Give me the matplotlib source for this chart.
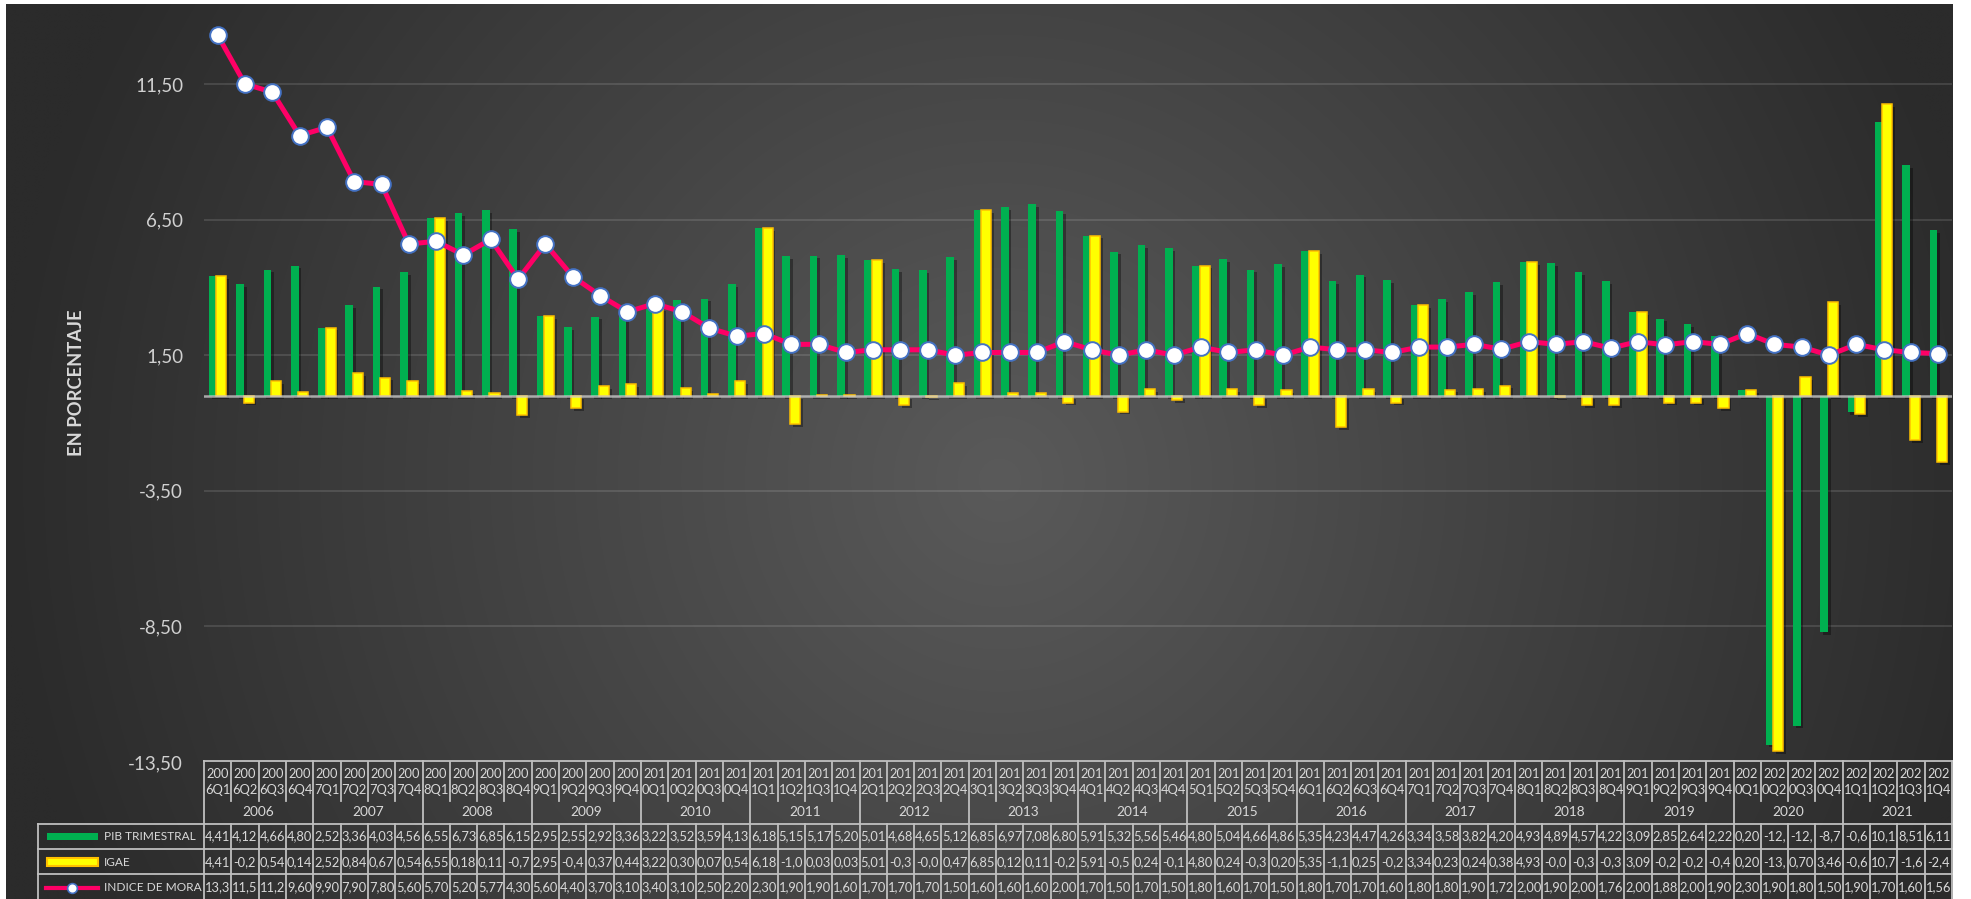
import numpy as np
import matplotlib
matplotlib.use("Agg")
import matplotlib.pyplot as plt
from matplotlib.transforms import blended_transform_factory
from matplotlib.patches import Rectangle
from matplotlib.lines import Line2D
import matplotlib.patheffects as pe

plt.rcParams['font.family'] = ['Lato', 'DejaVu Sans']

# ---------------- data ----------------
years = [str(y) for y in range(2006, 2022)]
quarters = ["Q1", "Q2", "Q3", "Q4"]
periods = [f"{y}{q}" for y in years for q in quarters]

pib = [4.41, 4.12, 4.66, 4.80,
       2.52, 3.36, 4.03, 4.56,
       6.55, 6.73, 6.85, 6.15,
       2.95, 2.55, 2.92, 3.36,
       3.22, 3.52, 3.59, 4.13,
       6.18, 5.15, 5.17, 5.20,
       5.01, 4.68, 4.65, 5.12,
       6.85, 6.97, 7.08, 6.80,
       5.91, 5.32, 5.56, 5.46,
       4.80, 5.04, 4.66, 4.86,
       5.35, 4.23, 4.47, 4.26,
       3.34, 3.58, 3.82, 4.20,
       4.93, 4.89, 4.57, 4.22,
       3.09, 2.85, 2.64, 2.22,
       0.20, -12.86, -12.16, -8.72,
       -0.61, 10.11, 8.51, 6.11]

igae = [4.41, -0.25, 0.54, 0.14,
        2.52, 0.84, 0.67, 0.54,
        6.55, 0.18, 0.11, -0.72,
        2.95, -0.45, 0.37, 0.44,
        3.22, 0.30, 0.07, 0.54,
        6.18, -1.05, 0.03, 0.03,
        5.01, -0.35, -0.05, 0.47,
        6.85, 0.12, 0.11, -0.25,
        5.91, -0.58, 0.24, -0.15,
        4.80, 0.24, -0.35, 0.20,
        5.35, -1.15, 0.25, -0.25,
        3.34, 0.23, 0.24, 0.38,
        4.93, -0.05, -0.35, -0.35,
        3.09, -0.25, -0.25, -0.45,
        0.20, -13.09, 0.70, 3.46,
        -0.66, 10.75, -1.63, -2.43]

mora = [13.30, 11.50, 11.20, 9.60,
        9.90, 7.90, 7.80, 5.60,
        5.70, 5.20, 5.77, 4.30,
        5.60, 4.40, 3.70, 3.10,
        3.40, 3.10, 2.50, 2.20,
        2.30, 1.90, 1.90, 1.60,
        1.70, 1.70, 1.70, 1.50,
        1.60, 1.60, 1.60, 2.00,
        1.70, 1.50, 1.70, 1.50,
        1.80, 1.60, 1.70, 1.50,
        1.80, 1.70, 1.70, 1.60,
        1.80, 1.80, 1.90, 1.72,
        2.00, 1.90, 2.00, 1.76,
        2.00, 1.88, 2.00, 1.90,
        2.30, 1.90, 1.80, 1.50,
        1.90, 1.70, 1.60, 1.56]

series_names = ["PIB TRIMESTRAL", "IGAE", "INDICE DE MORA"]
yticks = [-13.5, -8.5, -3.5, 1.5, 6.5, 11.5]
ylabel = "EN PORCENTAJE"

# ---------------- style ----------------
GREEN = '#00B050'
YELLOW = '#FFFF00'
ORANGE = '#FFC000'
PINK = '#FF0066'
BLUE = '#4472C4'
TXT = '#d9d9d9'
GRIDC = '#bfbfbf'

W, H = 1971, 899
fig = plt.figure(figsize=(W / 100, H / 100), dpi=100)
fig.patch.set_facecolor('white')


def fy(p):
    return 1 - p / H


# background radial gradient
bg = fig.add_axes([6 / W, 0, (1953 - 6) / W, 1 - 4 / H], zorder=-10)
ny, nx = 240, 520
yy, xx = np.mgrid[0:ny, 0:nx]
px = 6 + xx / (nx - 1) * 1947
py = 4 + yy / (ny - 1) * 895
r = np.sqrt((px - 1000) ** 2 + (py - 480) ** 2) / 1000
val = (90 - 47 * np.clip(r, 0, 1)) / 255
img = np.dstack([val, val, val])
bg.imshow(img, aspect='auto', interpolation='bilinear', extent=[0, 1, 0, 1])
bg.set_axis_off()

# main axes
ax = fig.add_axes([204 / W, fy(762), (1952 - 204) / W, (762 - 4) / H])
ax.set_facecolor('none')
n = len(periods)
x = np.arange(n)
ax.set_xlim(-0.5, n - 0.5)
ax.set_ylim(-13.5, 14.45)
ax.set_yticks(yticks)
ax.set_yticklabels([f"{t:.2f}".replace('.', ',') for t in yticks])
ax.set_xticks([])
ax.tick_params(axis='y', length=0, pad=15, labelsize=13.5, labelcolor='#d0d0d0')
for s in ax.spines.values():
    s.set_visible(False)
ax.yaxis.grid(True, color='white', alpha=0.13, lw=1.3)
ax.set_axisbelow(True)

shadow = [pe.SimplePatchShadow(offset=(2, -2), shadow_rgbFace='black', alpha=0.35), pe.Normal()]
ax.bar(x - 0.18, pib, width=0.28, color=GREEN, zorder=3, path_effects=shadow)
ax.bar(x + 0.135, igae, width=0.37, color=YELLOW, edgecolor=ORANGE, lw=1.1, zorder=4,
       path_effects=shadow)
ax.axhline(0, color='#d0d0d0', lw=1.8, alpha=0.75, zorder=5)
ax.plot(x, mora, color=PINK, lw=3.6, marker='o', ms=12, mfc='white', mec=BLUE, mew=1.4,
        zorder=6, solid_joinstyle='round')

fig.text(76.7 / W, fy(383), ylabel, rotation=90, fontweight='bold', fontsize=13.2,
         color=TXT, ha='center', va='center')

# ---------------- data table ----------------
tr = blended_transform_factory(ax.transData, fig.transFigure)
LW = 1.3


def hline(ypx, x0, x1, t=tr):
    fig.add_artist(Line2D([x0, x1], [fy(ypx)] * 2, transform=t, color=GRIDC, lw=LW))


def vline(xd, y0, y1, t=tr):
    fig.add_artist(Line2D([xd, xd], [fy(y0), fy(y1)], transform=t, color=GRIDC, lw=LW))


L, R = -0.5, n - 0.5
hline(761, L, R)
for ypx in (824, 849, 874):
    hline(ypx, L, R)
    hline(ypx, 38 / W, 204 / W, fig.transFigure)
vline(38 / W, 824, 899, fig.transFigure)

for i in range(n + 1):
    xd = i - 0.5
    if i % 4 == 0:
        vline(xd, 761, 899)
    else:
        vline(xd, 762, 801)
        vline(xd, 824, 899)

FS = 9.3
for i, p in enumerate(periods):
    ax.text(i, fy(774), p[:3], transform=tr, ha='center', va='center', fontsize=FS, color=TXT)
    ax.text(i, fy(789.5), p[3:], transform=tr, ha='center', va='center', fontsize=FS, color=TXT)

for k, yv in enumerate(years):
    ax.text(4 * k + 1.5, fy(812.5), yv, transform=tr, ha='center', va='center',
            fontsize=FS + 0.5, color=TXT)


def fmt(v):
    return f"{v:.2f}".replace('.', ',')[:4]


for row_y, vals in zip((836.5, 862, 887.5), (pib, igae, mora)):
    for i, v in enumerate(vals):
        ax.text(i, fy(row_y), fmt(v), transform=tr, ha='center', va='center',
                fontsize=FS, color=TXT)

# legend keys
fig.add_artist(Rectangle((47 / W, fy(839.5)), 51 / W, 7 / H, transform=fig.transFigure,
                         facecolor=GREEN, edgecolor='none'))
fig.add_artist(Rectangle((47 / W, fy(866)), 51 / W, 8 / H, transform=fig.transFigure,
                         facecolor=YELLOW, edgecolor=ORANGE, lw=1.5))
fig.add_artist(Line2D([46 / W, 98 / W], [fy(887.5)] * 2, transform=fig.transFigure,
                      color=PINK, lw=3))
fig.add_artist(Line2D([72 / W], [fy(887.5)], transform=fig.transFigure, marker='o', ms=7,
                      mfc='white', mec=BLUE, mew=1.2, lw=0))
for row_y, name in zip((836.5, 862, 887.5), series_names):
    fig.text(104 / W, fy(row_y), name, ha='left', va='center', fontsize=8.6, color=TXT)

fig.savefig('out.png', dpi=100, facecolor=fig.get_facecolor())
